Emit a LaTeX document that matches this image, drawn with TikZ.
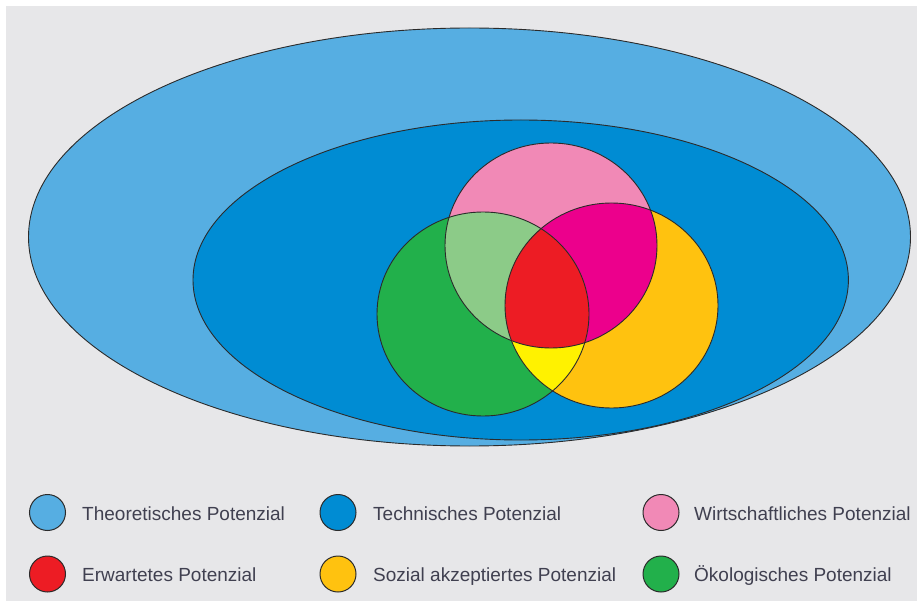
\documentclass[tikz,border=0pt]{standalone}
\usepackage{fontspec}
\setmainfont{Liberation Sans}
\definecolor{bggray}{HTML}{E7E7E9}
\definecolor{outerblue}{HTML}{56AEE2}
\definecolor{innerblue}{HTML}{008CD3}
\definecolor{vpink}{HTML}{F189B6}
\definecolor{vgreen}{HTML}{22B04B}
\definecolor{vorange}{HTML}{FFC20F}
\definecolor{vlightgreen}{HTML}{8CCB88}
\definecolor{vmagenta}{HTML}{EC008C}
\definecolor{vyellow}{HTML}{FFF200}
\definecolor{vred}{HTML}{ED1C24}
\definecolor{edgecol}{HTML}{2B2B2B}
\definecolor{textcol}{HTML}{404050}
\begin{document}
\begin{tikzpicture}[x=1pt,y=-1pt,
  outline/.style={draw=edgecol,line width=0.9pt},
  legdot/.style={circle,minimum size=36pt,inner sep=0pt,draw=edgecol,line width=1pt},
  legtext/.style={anchor=base west,inner sep=0pt,text=textcol,font=\fontsize{19}{22}\selectfont}]
\useasboundingbox (0,0) rectangle (917,601);
\fill[white] (0,0) rectangle (917,601);
\fill[bggray] (6,6) rectangle (917,601);
% outer and inner ellipses
\filldraw[fill=outerblue,outline] (469.5,237) ellipse [x radius=441,y radius=209];
\filldraw[fill=innerblue,outline] (520.7,280) ellipse [x radius=327.7,y radius=160];
% Venn shapes
\def\pinkE{(551,245.5) ellipse [x radius=106,y radius=102.5]}
\def\greenE{(483,314) ellipse [x radius=106,y radius=102]}
\def\orangeE{(611.5,305.5) ellipse [x radius=106.5,y radius=102.5]}
\fill[vpink] \pinkE;
\fill[vgreen] \greenE;
\fill[vorange] \orangeE;
\begin{scope}
  \clip \pinkE;
  \fill[vlightgreen] \greenE;
  \fill[vmagenta] \orangeE;
\end{scope}
\begin{scope}
  \clip \greenE;
  \fill[vyellow] \orangeE;
\end{scope}
\begin{scope}
  \clip \pinkE;
  \clip \greenE;
  \fill[vred] \orangeE;
\end{scope}
\draw[outline] \pinkE;
\draw[outline] \greenE;
\draw[outline] \orangeE;
% legend
\node[legdot,fill=outerblue] (l1) at (47.5,512.5) {};
\node[legtext] (t1) at (82,520.5) {Theoretisches Potenzial};
\node[legdot,fill=innerblue] (l2) at (338,512.5) {};
\node[legtext] (t2) at (373,520.5) {Technisches Potenzial};
\node[legdot,fill=vpink] (l3) at (661,512.5) {};
\node[legtext] (t3) at (694,520.5) {Wirtschaftliches Potenzial};
\node[legdot,fill=vred] (l4) at (47.5,574) {};
\node[legtext] (t4) at (82,581) {Erwartetes Potenzial};
\node[legdot,fill=vorange] (l5) at (338,574) {};
\node[legtext] (t5) at (373,581) {Sozial akzeptiertes Potenzial};
\node[legdot,fill=vgreen] (l6) at (661,574) {};
\node[legtext] (t6) at (694,581) {Ökologisches Potenzial};
\end{tikzpicture}
\end{document}
